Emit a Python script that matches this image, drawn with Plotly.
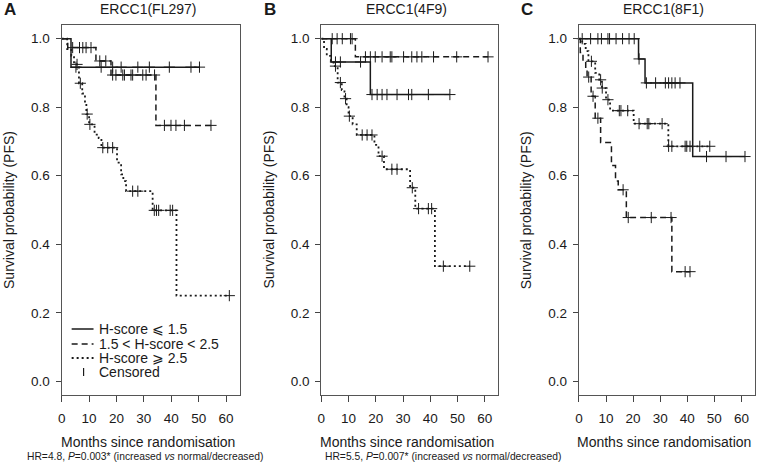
import numpy as np
import plotly.graph_objects as go

# ---- data (months, survival probability) ----
# panel A  ERCC1(FL297)
a_low_t = [0, 3.4]
a_low_s = [1.0, 0.917]
a_low_cens = [5.2, 14.4, 18.6, 21.7, 27.8, 32.0, 39.3, 47.2, 50.3]

a_mid_t = [0, 2.2, 12.5, 18.0, 34.4]
a_mid_s = [1.0, 0.974, 0.935, 0.894, 0.747]
a_mid_cens = [4.0, 6.5, 7.7, 8.9, 10.7, 13.9, 16.1, 18.6, 19.8, 22.3, 22.9,
              25.3, 25.9, 29.6, 30.8, 33.9, 37.5, 39.9, 41.7, 44.8, 54.5]

a_high_t = [0, 2.0, 3.5, 4.5, 6.3, 7.5, 8.5, 9.0, 10.0, 12.0, 13.5, 14.5,
            20.2, 21.7, 22.5, 23.5, 33.2, 41.9]
a_high_s = [1.0, 0.97, 0.95, 0.925, 0.87, 0.84, 0.81, 0.78, 0.75, 0.72, 0.71,
            0.682, 0.638, 0.604, 0.584, 0.555, 0.499, 0.25]
a_high_cens = [5.6, 6.8, 9.3, 10.3, 15.0, 16.8, 18.6, 25.9, 27.8, 33.8, 34.6,
               35.4, 39.6, 40.5, 61.2]

# panel B  ERCC1(4F9)
b_low_t = [0, 3.65, 18.0]
b_low_s = [1.0, 0.932, 0.837]
b_low_cens = [5.2, 7.0, 14.4, 18.6, 20.5, 22.3, 24.1, 27.8, 32.0, 33.2, 39.3, 47.2]

b_mid_t = [0, 12.5]
b_mid_s = [1.0, 0.947]
b_mid_cens = [4.0, 5.8, 7.7, 10.7, 11.3, 16.2, 18.0, 19.8, 22.3, 25.3, 25.9,
              30.2, 33.2, 35.1, 36.9, 41.2, 49.7, 61.2]

b_high_t = [0, 1.0, 2.0, 3.5, 4.5, 6.0, 7.5, 8.5, 9.3, 10.0, 11.5, 13.0,
            19.5, 21.0, 23.0, 32.6, 34.5, 41.7]
b_high_s = [1.0, 0.97, 0.95, 0.935, 0.92, 0.872, 0.85, 0.825, 0.80, 0.774,
            0.75, 0.719, 0.69, 0.657, 0.619, 0.565, 0.504, 0.336]
b_high_cens = [5.2, 7.0, 8.9, 10.3, 15.0, 16.8, 18.6, 22.3, 25.9, 27.8, 33.4,
               35.7, 39.3, 40.5, 44.8, 54.5]

# panel C  ERCC1(8F1)
c_low_t = [0, 22.0, 24.4, 42.0]
c_low_s = [1.0, 0.941, 0.871, 0.656]
c_low_cens = [1.2, 4.3, 7.0, 8.3, 10.7, 11.3, 13.7, 16.1, 18.5, 20.4, 22.2,
              24.9, 28.3, 31.9, 33.1, 34.3, 35.5, 37.3, 47.1, 54.3, 61.3]

c_mid_t = [0, 0.5, 1.5, 2.5, 3.0, 4.5, 6.0, 8.0, 12.0, 13.5, 14.5, 17.5, 34.3]
c_mid_s = [1.0, 0.96, 0.93, 0.91, 0.888, 0.832, 0.768, 0.697, 0.63, 0.585,
           0.559, 0.478, 0.32]
c_mid_cens = [3.6, 5.2, 7.0, 16.3, 18.2, 26.7, 34.0, 39.2, 41.0]

c_high_t = [0, 1.2, 2.5, 3.5, 6.0, 7.5, 8.5, 10.0, 11.5, 20.2, 33.0]
c_high_s = [1.0, 0.985, 0.964, 0.934, 0.90, 0.88, 0.856, 0.822, 0.79, 0.752, 0.686]
c_high_cens = [4.6, 8.0, 8.6, 10.7, 14.9, 15.5, 18.0, 22.2, 25.2, 25.8, 30.7,
               33.1, 34.3, 39.2, 39.8, 41.0, 44.6, 48.3]

titles = ["ERCC1(FL297)", "ERCC1(4F9)", "ERCC1(8F1)"]
letters = ["A", "B", "C"]
legend_labels = ["H-score \u2A7D 1.5", "1.5 < H-score < 2.5", "H-score \u2A7E 2.5", "Censored"]
footnotes = ["HR=4.8, <i>P</i>=0.003* (increased <i>vs</i> normal/decreased)",
             "HR=5.5, <i>P</i>=0.007* (increased <i>vs</i> normal/decreased)"]
x_ticks = [0, 10, 20, 30, 40, 50, 60]
y_ticks = [0.0, 0.2, 0.4, 0.6, 0.8, 1.0]

panels = [
    [(a_low_t, a_low_s, a_low_cens), (a_mid_t, a_mid_s, a_mid_cens), (a_high_t, a_high_s, a_high_cens)],
    [(b_low_t, b_low_s, b_low_cens), (b_mid_t, b_mid_s, b_mid_cens), (b_high_t, b_high_s, b_high_cens)],
    [(c_low_t, c_low_s, c_low_cens), (c_mid_t, c_mid_s, c_mid_cens), (c_high_t, c_high_s, c_high_cens)],
]

W, H = 757, 463
INK = "#1a1a1a"
FONT = "Liberation Sans, Arial, sans-serif"
dashes = ["solid", "6px,4px", "2px,3px"]
widths = [1.5, 1.5, 1.8]

# plot boxes in pixels (left, right) and shared (top, bottom)
boxes = [(58, 237), (319, 497), (578, 755)]
top, bottom = 25, 395

fig = go.Figure()

for p, groups in enumerate(panels):
    xa = "x" if p == 0 else "x%d" % (p + 1)
    ya = "y" if p == 0 else "y%d" % (p + 1)
    for g, (t, s, cens) in enumerate(groups):
        t = np.asarray(t, float)
        s = np.asarray(s, float)
        cens = np.asarray(cens, float)
        end = max(t[-1], cens.max())
        xs = np.append(t, end)
        ys = np.append(s, s[-1])
        fig.add_trace(go.Scatter(x=xs, y=ys, xaxis=xa, yaxis=ya, mode="lines",
                                 line=dict(color=INK, width=widths[g], dash=dashes[g], shape="hv"),
                                 showlegend=False, hoverinfo="skip"))
        # censor marks sit on the curve level at their time
        cs = s[np.searchsorted(t, cens, side="right") - 1]
        fig.add_trace(go.Scatter(x=cens, y=cs, xaxis=xa, yaxis=ya, mode="markers",
                                 marker=dict(symbol="cross-thin", size=8,
                                             line=dict(color=INK, width=1)),
                                 showlegend=False, cliponaxis=False))

layout = dict(width=W, height=H, margin=dict(l=0, r=0, t=0, b=0),
              paper_bgcolor="white", plot_bgcolor="white",
              font=dict(family=FONT, color=INK, size=13))

def note(text, px, py, size, **kw):
    d = dict(text=text, x=px / W, y=1 - py / H, xref="paper", yref="paper",
             xanchor="center", yanchor="middle", showarrow=False, font=dict(size=size))
    d.update(kw)
    return d

annotations = []
shapes = []
for p, (l, r) in enumerate(boxes):
    sx = "" if p == 0 else str(p + 1)
    layout["xaxis" + sx] = dict(domain=[l / W, r / W], anchor="y" + sx, range=[0, 65],
                                tickvals=x_ticks, ticks="outside", ticklen=6,
                                tickcolor="#444", showline=True, mirror=True,
                                linecolor="#555", linewidth=1.2, showgrid=False,
                                zeroline=False, tickfont=dict(size=13.5),
                                ticklabelstandoff=5)
    layout["yaxis" + sx] = dict(domain=[1 - bottom / H, 1 - top / H], anchor="x" + sx,
                                range=[-0.04, 1.04], tickvals=y_ticks,
                                ticktext=["%.1f" % v for v in y_ticks],
                                ticks="outside", ticklen=5, tickcolor="#444",
                                showline=True, mirror=True, linecolor="#555",
                                linewidth=1.2, showgrid=False, zeroline=False,
                                tickfont=dict(size=13.5), ticklabelstandoff=3)
    cx = (l + r) / 2
    annotations.append(note(titles[p], cx - 3, 9, 14))
    annotations.append(note("<b>%s</b>" % letters[p], l - 52, 9, 17))
    annotations.append(note("Survival probability (PFS)", l - 53, 210, 14, textangle=-90))
    annotations.append(note("Months since randomisation", cx - 3, 442, 14))

for txt, x0 in zip(footnotes, [21, 321]):
    annotations.append(note(txt, x0, 456, 10.3, xanchor="left"))

# legend inside panel A
leg_y = [329, 344, 358, 372]
for i, lab in enumerate(legend_labels):
    annotations.append(note(lab, 93, leg_y[i], 14, xanchor="left"))
    yy = 1 - leg_y[i] / H
    if i < 3:
        shapes.append(dict(type="line", xref="paper", yref="paper", x0=68 / W, x1=90 / W,
                           y0=yy, y1=yy, line=dict(color=INK, width=widths[i], dash=dashes[i])))
    else:
        shapes.append(dict(type="line", xref="paper", yref="paper", x0=80 / W, x1=80 / W,
                           y0=yy - 4 / H, y1=yy + 4 / H, line=dict(color=INK, width=1.2)))

layout["annotations"] = annotations
layout["shapes"] = shapes
fig.update_layout(**layout)

# page body margin would shift the chart by 8px
fig.write_html("out.html", config={"displayModeBar": False},
               post_script="document.body.style.margin='0px';")
